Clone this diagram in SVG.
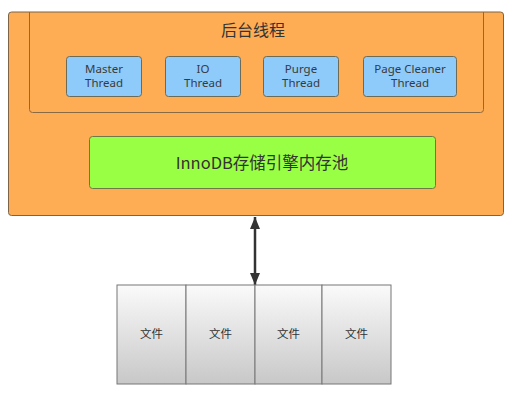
<svg xmlns="http://www.w3.org/2000/svg" width="516" height="402" viewBox="0 0 516 402">
<defs>
<linearGradient id="fileGrad" x1="0" y1="0" x2="0" y2="1">
<stop offset="0" stop-color="#fafafa"/>
<stop offset="1" stop-color="#c8c8c8"/>
</linearGradient>
<marker id="ah" viewBox="0 0 12 10" refX="12" refY="5" markerWidth="12" markerHeight="10" markerUnits="userSpaceOnUse" orient="auto-start-reverse">
<path d="M0,0 L12,5 L0,10 Z" fill="#333"/>
</marker>
<clipPath id="outerClip"><rect x="8.5" y="12" width="495" height="203.5" rx="3"/></clipPath>
</defs>
<style>
.thread rect{fill:#8ecbfb;stroke:#6d6a55;stroke-width:1}
.thread text{font-family:"Noto Sans","DejaVu Sans",sans-serif;font-size:11.5px;fill:#3a3a3a;text-anchor:middle}
.cn{font-family:"Noto Sans CJK SC","Noto Sans",sans-serif;fill:#333;text-anchor:middle}
.file rect{fill:url(#fileGrad);stroke:#777;stroke-width:1}
.file text{font-size:11.5px}
</style>
<rect width="516" height="402" fill="#ffffff"/>
<g id="engine">
<rect x="8.5" y="12" width="495" height="203.5" rx="3" fill="#ffad55" stroke="#7d6448" stroke-width="1"/>
</g>
<g id="background-threads" clip-path="url(#outerClip)">
<rect x="29.5" y="2" width="454" height="110.5" rx="3" fill="none" stroke="#8a6a45" stroke-width="1"/>
<text class="cn" x="253" y="36" font-size="16">后台线程</text>
</g>
<g id="master-thread" class="thread">
<rect x="66.5" y="56.5" width="75" height="40" rx="3"/>
<text x="104" y="72.5">Master</text>
<text x="104" y="86.5">Thread</text>
</g>
<g id="io-thread" class="thread">
<rect x="165.5" y="56.5" width="75" height="40" rx="3"/>
<text x="203" y="72.5">IO</text>
<text x="203" y="86.5">Thread</text>
</g>
<g id="purge-thread" class="thread">
<rect x="263.5" y="56.5" width="75" height="40" rx="3"/>
<text x="301" y="72.5">Purge</text>
<text x="301" y="86.5">Thread</text>
</g>
<g id="page-cleaner-thread" class="thread">
<rect x="363.5" y="56.5" width="93" height="40" rx="3"/>
<text x="410" y="72.5">Page Cleaner</text>
<text x="410" y="86.5">Thread</text>
</g>
<g id="buffer-pool">
<rect x="89.5" y="136.5" width="346" height="52" rx="3" fill="#99ff44" stroke="#6d7a45" stroke-width="1"/>
<text class="cn" x="262" y="168.5" font-size="16.5">InnoDB存储引擎内存池</text>
</g>
<g id="connectors">
<line x1="255" y1="217" x2="255" y2="285" stroke="#333" stroke-width="2.5" marker-start="url(#ah)" marker-end="url(#ah)"/>
</g>
<g id="file-1" class="file">
<rect x="117" y="285" width="69" height="99"/>
<text class="cn" x="151.5" y="338">文件</text>
</g>
<g id="file-2" class="file">
<rect x="186" y="285" width="69" height="99"/>
<text class="cn" x="220.5" y="338">文件</text>
</g>
<g id="file-3" class="file">
<rect x="255" y="285" width="67" height="99"/>
<text class="cn" x="288.5" y="338">文件</text>
</g>
<g id="file-4" class="file">
<rect x="322" y="285" width="69" height="99"/>
<text class="cn" x="356.5" y="338">文件</text>
</g>
</svg>
